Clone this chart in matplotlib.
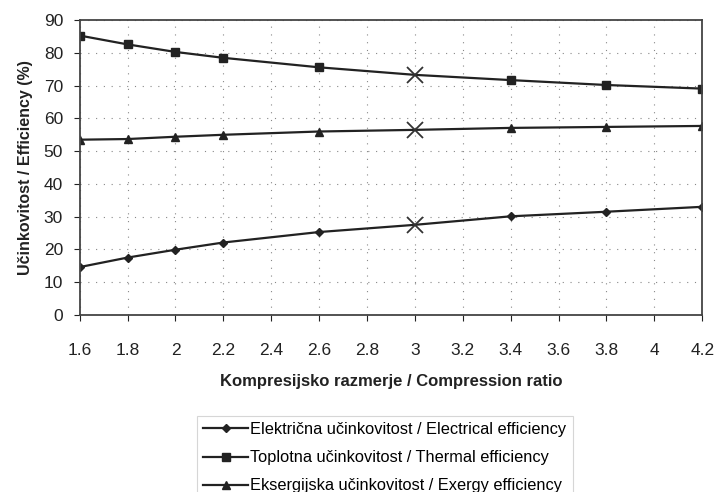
import matplotlib.pyplot as plt
import numpy as np

plt.rcParams['font.family'] = ['Liberation Sans', 'DejaVu Sans']

ratio = [1.6, 1.8, 2.0, 2.2, 2.6, 3.0, 3.4, 3.8, 4.2]
electrical = [14.6, 17.5, 19.9, 22.1, 25.3, 27.5, 30.1, 31.5, 33.0]
thermal = [85.3, 82.6, 80.3, 78.5, 75.6, 73.3, 71.7, 70.2, 69.1]
exergy = [53.5, 53.7, 54.4, 55.0, 56.0, 56.5, 57.1, 57.4, 57.7]

labels = ['Električna učinkovitost / Electrical efficiency',
          'Toplotna učinkovitost / Thermal efficiency',
          'Eksergijska učinkovitost / Exergy efficiency']

design_idx = 5  # compression ratio 3 is marked with a cross

fig = plt.figure(figsize=(7.18, 4.92), dpi=100)
ax = fig.add_axes([0.111, 0.360, 0.867, 0.599])

marks = [i for i in range(len(ratio)) if i != design_idx]
series = [(electrical, 'D', 4.5), (thermal, 's', 6), (exergy, '^', 6)]
for (vals, m, ms), lab in zip(series, labels):
    ax.plot(ratio, vals, color='#222222', lw=1.6, marker=m, ms=ms,
            markevery=marks, label=lab)
    ax.plot(ratio[design_idx], vals[design_idx], marker='x', ms=11,
            mew=1.3, color='#333333', ls='none')

ax.set_xlim(1.6, 4.2)
ax.set_ylim(0, 90)
ax.set_xticks(np.arange(1.6, 4.21, 0.2))
ax.set_xticklabels(['1.6', '1.8', '2', '2.2', '2.4', '2.6', '2.8', '3',
                    '3.2', '3.4', '3.6', '3.8', '4', '4.2'])
ax.set_yticks(range(0, 91, 10))
ax.tick_params(labelsize=12.5, colors='#222222', length=4)
ax.tick_params(axis='x', pad=16)
ax.tick_params(axis='y', pad=8)
ax.grid(True, ls=(0, (1, 6)), color='#888888', lw=0.8)
for s in ax.spines.values():
    s.set_color('#444444')
    s.set_linewidth(1.3)

ax.set_xlabel('Kompresijsko razmerje / Compression ratio', fontsize=12,
              fontweight='bold', labelpad=12, color='#222222')
ax.set_ylabel('Učinkovitost / Efficiency (%)', fontsize=11.5,
              fontweight='bold', labelpad=8, color='#222222')

leg = fig.legend(loc='upper center', bbox_to_anchor=(0.536, 0.172),
                 fontsize=11.8, frameon=True, fancybox=False, handlelength=2.7,
                 handletextpad=0.15, edgecolor='#cccccc', borderpad=0.4,
                 labelspacing=0.8)
leg.get_frame().set_linewidth(0.8)

fig.savefig('out.png', dpi=100)
